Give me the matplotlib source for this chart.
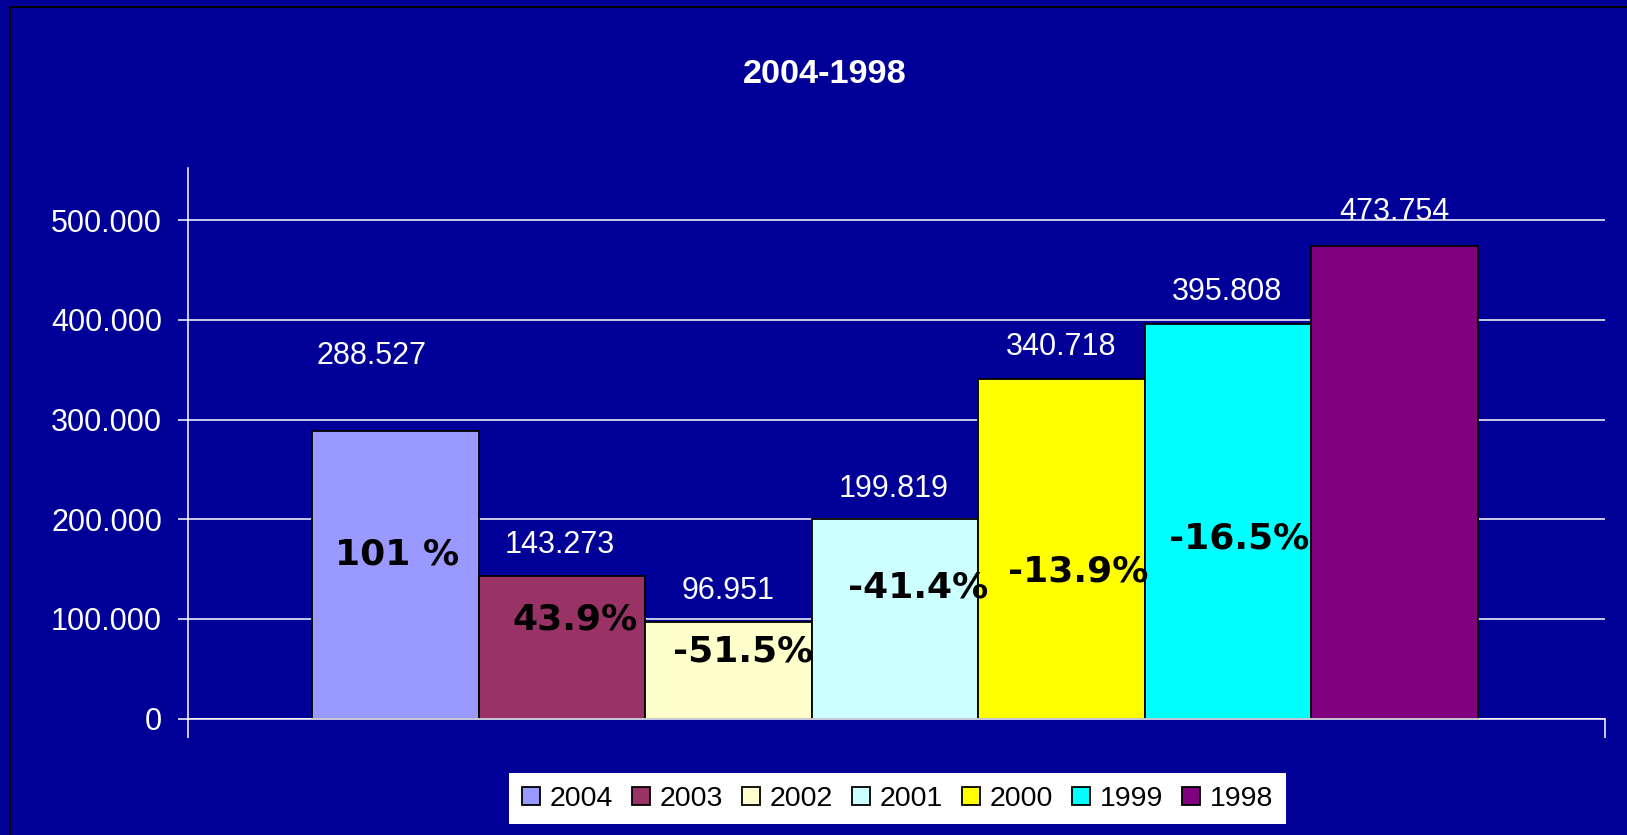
import matplotlib
matplotlib.use("Agg")
import matplotlib.pyplot as plt
from matplotlib.ticker import FuncFormatter
from matplotlib.patches import Rectangle

# ---------------- data ----------------
years = ["2004", "2003", "2002", "2001", "2000", "1999", "1998"]
values = [288527, 143273, 96951, 199819, 340718, 395808, 473754]
value_labels = ["288.527", "143.273", "96.951", "199.819", "340.718", "395.808", "473.754"]
pct_labels = ["101 %", "43.9%", "-51.5%", "-41.4%", "-13.9%", "-16.5%", ""]
title = "2004-1998"
y_ticks = [0, 100000, 200000, 300000, 400000, 500000]

# ---------------- style / layout ----------------
bar_colors = ["#9999FF", "#993366", "#FFFFCC", "#CCFFFF", "#FFFF00", "#00FFFF", "#800080"]
BG = "#000099"
W, H = 1627, 835
# offsets (pixels) of value labels' baseline relative to bar top centre
value_label_offsets = [(-24, 67), (-2, 23), (0, 23), (-1, 22), (0, 24), (-1, 24), (0, 26)]
# percent label (x offset in bar units, y baseline in data units)
pct_label_pos = [(0.01, 154100), (0.08, 89800), (0.09, 57000), (0.14, 121900),
                 (0.10, 137300), (0.065, 170500), (0.0, 0)]

plt.rcParams["font.family"] = ["Liberation Sans", "DejaVu Sans"]

fig = plt.figure(figsize=(W / 100, H / 100), dpi=100, facecolor=BG)
ax = fig.add_axes([188 / W, 1 - 718.5 / H, (1605 - 188) / W, (718.5 - 168) / H])
ax.set_facecolor(BG)

x = list(range(len(years)))
bars = ax.bar(x, values, width=1.0, color=bar_colors, edgecolor="black",
              linewidth=1.3, zorder=3)

ax.set_xlim(-1.244, 7.262)
ax.set_ylim(0, 552500)

ax.set_yticks(y_ticks)
ax.yaxis.set_major_formatter(FuncFormatter(lambda v, p: f"{int(v):,}".replace(",", ".")))
ax.tick_params(axis="y", colors="white", labelcolor="white", labelsize=22,
               length=7.2, width=1.1, direction="out", pad=11.5)
ax.set_xticks([-1.244, 7.262])
ax.set_xticklabels([])
ax.tick_params(axis="x", colors="white", length=13.7, width=1.1, direction="out")

ax.grid(axis="y", color="white", linewidth=1.1, zorder=0)
ax.set_axisbelow(True)

for side in ["top", "right"]:
    ax.spines[side].set_visible(False)
for side in ["left", "bottom"]:
    ax.spines[side].set_color("white")
    ax.spines[side].set_linewidth(1.1)
    ax.spines[side].set_zorder(4)

# value labels
for i, (v, lab) in enumerate(zip(values, value_labels)):
    dx, dy = value_label_offsets[i]
    ax.annotate(lab, xy=(i, v), xytext=(dx, dy), textcoords="offset pixels",
                ha="center", va="baseline", color="white", fontsize=22, zorder=5)

# percent labels
for i, lab in enumerate(pct_labels):
    if not lab:
        continue
    dx, yb = pct_label_pos[i]
    ax.text(i + dx, yb, lab, ha="center", va="baseline", color="black",
            fontsize=26, fontweight="bold", family="DejaVu Sans", zorder=6)

# title
fig.text(825 / W, 1 - 83 / H, title, ha="center", va="baseline", color="white",
         fontsize=24.7, fontweight="bold")

# legend
leg = fig.legend(bars, years, ncol=7, loc="center",
                 bbox_to_anchor=(897.5 / W, 1 - 798.6 / H),
                 frameon=True, facecolor="white", edgecolor="none", fancybox=False,
                 framealpha=1, fontsize=20.5, handlelength=0.63, handleheight=0.6,
                 handletextpad=0.34, columnspacing=0.67, borderpad=0.45)
for t in leg.get_texts():
    t.set_color("black")

# outer border (only top/left visible in the crop)
fig.patches.append(Rectangle((10 / W, -0.1), 1.2, 1.1 - 7 / H, transform=fig.transFigure,
                             fill=False, edgecolor="black", linewidth=1.5))

fig.savefig("out.png", dpi=100, facecolor=BG)
